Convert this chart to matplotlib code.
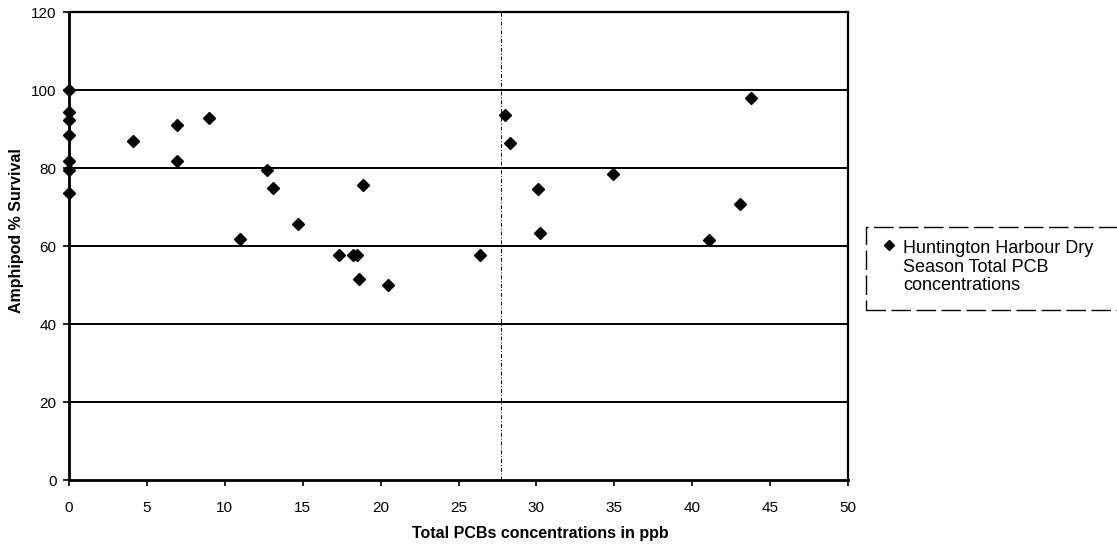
import matplotlib.pyplot as plt
from matplotlib.lines import Line2D
from matplotlib.patches import Rectangle

# PCB concentration (ppb) vs amphipod survival (%)
pcb_ppb = [0, 0, 0, 0, 0, 0, 0, 4.1, 6.9, 6.9, 9.0, 11.0, 12.7, 13.1, 14.7,
           17.3, 18.2, 18.5, 18.6, 18.9, 20.5, 26.4, 28.0, 28.3, 30.1, 30.2,
           34.9, 41.1, 43.1, 43.8]
survival = [100, 94.4, 92.4, 88.4, 81.8, 79.4, 73.6, 86.9, 90.9, 81.9, 92.9,
            61.8, 79.5, 75.0, 65.6, 57.6, 57.6, 57.6, 51.5, 75.6, 49.9, 57.7,
            93.5, 86.3, 74.6, 63.3, 78.4, 61.5, 70.8, 98.0]

series_label = 'Huntington Harbour Dry\nSeason Total PCB\nconcentrations'
y_ticks = [0, 20, 40, 60, 80, 100, 120]
x_ticks = [0, 5, 10, 15, 20, 25, 30, 35, 40, 45, 50]

plt.rcParams['font.family'] = ['Liberation Sans', 'DejaVu Sans']

W, H = 1117, 550
fig = plt.figure(figsize=(W / 100, H / 100), dpi=100)
ax = fig.add_axes([69 / W, 1 - 480 / H, 779 / W, 468 / H])

# horizontal gridlines
for yv in y_ticks[1:-1]:
    ax.axhline(yv, color='black', lw=1.4, zorder=1)
# faint dashed vertical line from the scan
ax.axvline(27.7, color='black', lw=0.7, ls=(0, (4, 2, 1, 2)), zorder=1)

ax.plot(pcb_ppb, survival, linestyle='none', marker='D', markersize=6.5,
        color='black', clip_on=False, zorder=3)

ax.set_xlim(0, 50)
ax.set_ylim(0, 120)
ax.set_xticks(x_ticks)
ax.set_yticks(y_ticks)
ax.tick_params(axis='both', labelsize=11, direction='out', length=4, width=1.2)
ax.tick_params(axis='x', pad=11)
ax.tick_params(axis='y', pad=5)

for side in ['left', 'bottom']:
    ax.spines[side].set_linewidth(2)
for side in ['top', 'right']:
    ax.spines[side].set_linewidth(1.6)

ax.set_xlabel('Total PCBs concentrations in ppb', fontsize=11.5, fontweight='bold')
ax.xaxis.set_label_coords((540 - 69) / 779, -(538 - 480) / 468, transform=ax.transAxes)
ax.xaxis.label.set_va('baseline')
ax.set_ylabel('Amphipod % Survival', fontsize=11.5, fontweight='bold')
ax.yaxis.set_label_coords(-(69 - 17) / 779, (480 - 231) / 468)
ax.yaxis.label.set_va('center')

# legend box (dashed, runs off the right edge like the scan)
fig.add_artist(Rectangle((866 / W, 1 - 310 / H), 300 / W, 83 / H,
                         transform=fig.transFigure, fill=False,
                         edgecolor='black', lw=1, ls=(0, (14, 4))))
fig.add_artist(Line2D([889 / W], [1 - 245 / H], transform=fig.transFigure,
                      marker='D', markersize=5, color='black', linestyle='none'))
fig.text(903 / W, 1 - 290 / H, series_label, fontsize=13, ha='left',
         va='baseline', linespacing=1.1)

plt.savefig('out.png', dpi=100)
